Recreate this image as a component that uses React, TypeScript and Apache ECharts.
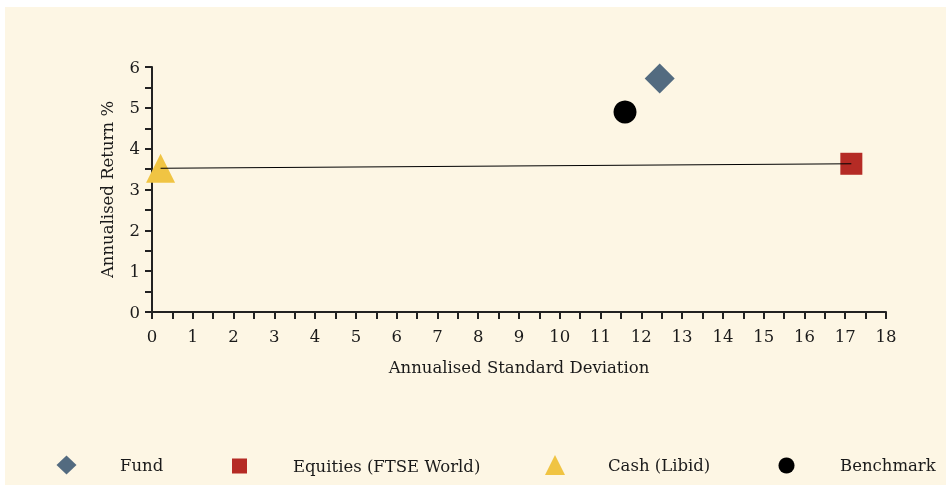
import React, { useEffect, useRef } from "react";
import * as echarts from "echarts";

const xTicks = [0, 18];
const yTicks = [0, 6];
const fund = [[12.45, 5.72]];
const equities = [[17.15, 3.63]];
const cash = [[0.21, 3.52]];
const benchmark = [[11.6, 4.9]];
const riskLine = [[0.21, 3.52], [17.15, 3.63]];
const seriesNames = ["Fund", "Equities (FTSE World)", "Cash (Libid)", "Benchmark"];

const FONT = "DejaVu Serif";
const FS = 16.5;
const TXT = "#1a1a1a";

export default function App() {
  const ref = useRef<HTMLDivElement>(null);
  useEffect(() => {
    const chart = echarts.init(ref.current!, null, { renderer: "svg" });
    const mkLegend = (name: string, icon: string, cx: number, w: number, h: number, textStart: number, color: string) => ({
      left: cx - w / 2,
      top: 465 - h / 2,
      padding: 0,
      orient: "horizontal",
      selectedMode: false,
      itemWidth: w,
      itemHeight: h,
      icon,
      data: [{ name, icon, itemStyle: { color } }],
      textStyle: {
        fontFamily: FONT,
        fontSize: FS,
        color: TXT,
        padding: [0, 0, 0, textStart - (cx - w / 2) - w - 5],
      },
    });
    chart.setOption({
      animation: false,
      backgroundColor: "transparent",
      graphic: [
        {
          type: "rect",
          z: -10,
          silent: true,
          shape: { x: 5, y: 7, width: 941, height: 478 },
          style: { fill: "#fdf6e4" },
        },
      ],
      grid: { left: 152, right: 60, top: 67, bottom: 176 },
      xAxis: {
        type: "value",
        min: xTicks[0],
        max: xTicks[1],
        interval: 1,
        name: "Annualised Standard Deviation",
        nameLocation: "middle",
        nameGap: 47,
        nameTextStyle: { fontFamily: FONT, fontSize: FS, color: TXT },
        axisLine: { show: true, lineStyle: { color: "#222", width: 2 } },
        axisTick: { show: true, length: 7, lineStyle: { color: "#222", width: 2 } },
        minorTick: { show: true, splitNumber: 2, length: 7, lineStyle: { color: "#222", width: 2 } },
        axisLabel: { fontFamily: FONT, fontSize: FS, color: TXT, margin: 16 },
        splitLine: { show: false },
      },
      yAxis: {
        type: "value",
        min: yTicks[0],
        max: yTicks[1],
        interval: 1,
        name: "Annualised Return %",
        nameLocation: "middle",
        nameGap: 36,
        nameTextStyle: { fontFamily: FONT, fontSize: FS, color: TXT },
        axisLine: { show: true, lineStyle: { color: "#222", width: 2 } },
        axisTick: { show: true, length: 7, lineStyle: { color: "#222", width: 2 } },
        minorTick: { show: true, splitNumber: 2, length: 7, lineStyle: { color: "#222", width: 2 } },
        axisLabel: { fontFamily: FONT, fontSize: FS, color: TXT, margin: 12 },
        splitLine: { show: false },
      },
      legend: [
        mkLegend(seriesNames[0], "diamond", 66.5, 20, 19, 120, "#536b80"),
        mkLegend(seriesNames[1], "rect", 239.5, 15, 15, 293, "#b52b25"),
        mkLegend(seriesNames[2], "triangle", 555, 20, 20, 608, "#f0c443"),
        mkLegend(seriesNames[3], "circle", 786.5, 16, 16, 840, "#000000"),
      ],
      series: [
        {
          name: seriesNames[0],
          type: "scatter",
          symbol: "diamond",
          symbolSize: 30,
          data: fund,
          itemStyle: { color: "#536b80", opacity: 1 },
        },
        {
          name: seriesNames[1],
          type: "scatter",
          symbol: "rect",
          symbolSize: 22,
          data: equities,
          itemStyle: { color: "#b52b25", opacity: 1 },
        },
        {
          name: seriesNames[2],
          type: "scatter",
          symbol: "triangle",
          symbolSize: 29,
          data: cash,
          itemStyle: { color: "#f0c443", opacity: 1 },
        },
        {
          name: seriesNames[3],
          type: "scatter",
          symbol: "circle",
          symbolSize: 23,
          data: benchmark,
          itemStyle: { color: "#000000", opacity: 1 },
        },
        {
          name: "line",
          type: "line",
          data: riskLine,
          symbol: "none",
          z: 5,
          lineStyle: { color: "#000", width: 1 },
        },
      ],
    });
    return () => chart.dispose();
  }, []);
  return (
    <div
      ref={ref}
      style={{ position: "fixed", left: 0, top: 0, width: 946, height: 488 }}
    />
  );
}
